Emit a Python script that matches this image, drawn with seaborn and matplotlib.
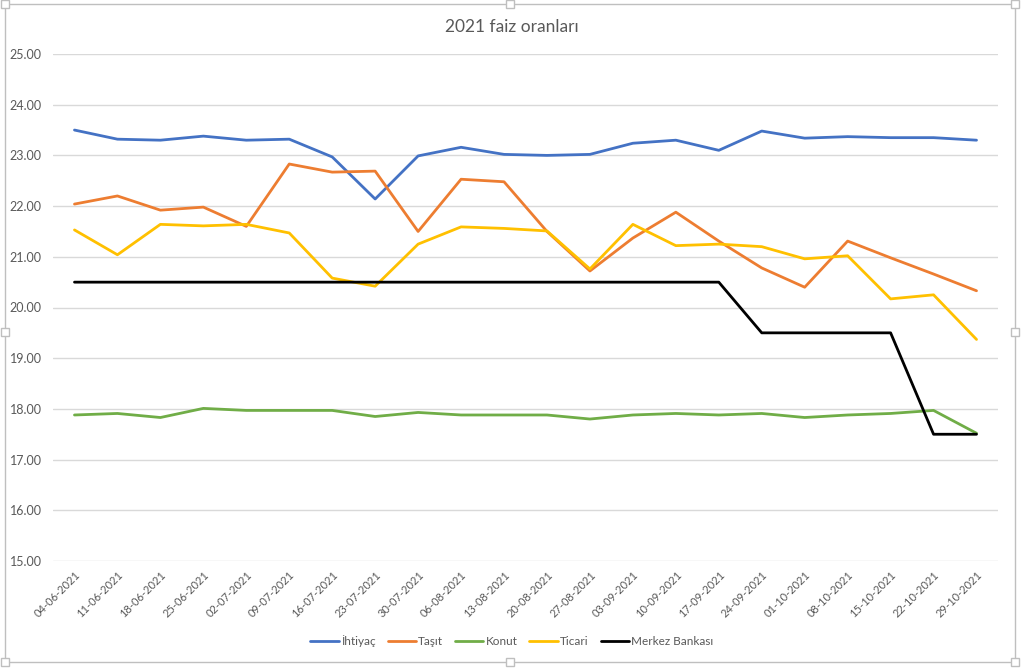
import matplotlib
matplotlib.use("Agg")
import matplotlib.pyplot as plt
import seaborn as sns
import pandas as pd
from matplotlib.patches import Rectangle
from matplotlib.lines import Line2D

dates = ["04-06-2021", "11-06-2021", "18-06-2021", "25-06-2021", "02-07-2021", "09-07-2021",
         "16-07-2021", "23-07-2021", "30-07-2021", "06-08-2021", "13-08-2021", "20-08-2021",
         "27-08-2021", "03-09-2021", "10-09-2021", "17-09-2021", "24-09-2021", "01-10-2021",
         "08-10-2021", "15-10-2021", "22-10-2021", "29-10-2021"]

ihtiyac = [23.50, 23.32, 23.30, 23.38, 23.30, 23.32, 22.97, 22.14, 22.99, 23.16, 23.02, 23.00,
           23.02, 23.24, 23.30, 23.10, 23.48, 23.34, 23.37, 23.35, 23.35, 23.30]
tasit = [22.04, 22.20, 21.92, 21.98, 21.60, 22.83, 22.67, 22.69, 21.50, 22.53, 22.48, 21.50,
         20.72, 21.37, 21.88, 21.31, 20.78, 20.40, 21.31, 20.98, 20.66, 20.33]
konut = [17.88, 17.91, 17.83, 18.01, 17.97, 17.97, 17.97, 17.85, 17.93, 17.88, 17.88, 17.88,
         17.80, 17.88, 17.91, 17.88, 17.91, 17.83, 17.88, 17.91, 17.97, 17.52]
ticari = [21.53, 21.04, 21.64, 21.61, 21.64, 21.47, 20.58, 20.42, 21.25, 21.59, 21.56, 21.51,
          20.76, 21.64, 21.22, 21.25, 21.20, 20.96, 21.02, 20.17, 20.25, 19.37]
merkez = [20.50, 20.50, 20.50, 20.50, 20.50, 20.50, 20.50, 20.50, 20.50, 20.50, 20.50, 20.50,
          20.50, 20.50, 20.50, 20.50, 19.50, 19.50, 19.50, 19.50, 17.50, 17.50]

series_names = ["İhtiyaç", "Taşıt", "Konut", "Ticari", "Merkez Bankası"]
series_vals = [ihtiyac, tasit, konut, ticari, merkez]
colors = ["#4472C4", "#ED7D31", "#70AD47", "#FFC000", "#000000"]

rows = []
for name, vals in zip(series_names, series_vals):
    for i, (d, v) in enumerate(zip(dates, vals)):
        rows.append({"idx": i, "date": d, "series": name, "value": v})
df = pd.DataFrame(rows)

sns.set_style("white")
plt.rcParams["font.family"] = ["Lato", "DejaVu Sans"]

W, H = 1024, 669
fig = plt.figure(figsize=(W / 100, H / 100), dpi=100)
ax = fig.add_axes([53 / W, 1 - 561 / H, (998 - 53) / W, (561 - 54) / H])

sns.lineplot(data=df, x="idx", y="value", hue="series", hue_order=series_names,
             palette=colors, linewidth=2.0, ax=ax, legend=False, sort=False)

ax.set_xlim(-0.5, len(dates) - 0.5)
ax.set_ylim(15, 25)
ax.set_yticks(list(range(15, 26)))
ax.set_yticklabels([f"{v:.2f}" for v in range(15, 26)], color="#595959", fontsize=9)
ax.set_xticks(range(len(dates)))
ax.set_xticklabels(dates, rotation=45, ha="right", rotation_mode="anchor",
                   color="#595959", fontsize=8)
ax.tick_params(axis="x", length=0, pad=6)
ax.tick_params(axis="y", length=0, pad=8)
ax.grid(axis="y", color="#D9D9D9", linewidth=1.0)
ax.set_axisbelow(True)
for s in ax.spines.values():
    s.set_visible(False)
ax.set_xlabel("")
ax.set_ylabel("")

fig.text(0.5, 1 - 27 / H, "2021 faiz oranları", ha="center", va="center",
         fontsize=12.5, color="#595959")

handles = [Line2D([0], [0], color=c, linewidth=2.0) for c in colors]
fig.legend(handles, series_names, loc="center", bbox_to_anchor=(0.5, 1 - 641 / H),
           ncol=5, frameon=False, fontsize=8.5, handlelength=2.4, handletextpad=0.2,
           columnspacing=1.0, labelcolor="#595959")

# chart frame
fig.patches.append(Rectangle((5 / W, 1 - 662 / H), (1015 - 5) / W, (662 - 4) / H,
                             transform=fig.transFigure, fill=False, edgecolor="#BFBFBF",
                             linewidth=1.0))
# selection handles
for hx, hy in [(5, 4), (510, 4), (1015, 4), (5, 332), (1015, 332), (5, 662), (510, 662), (1015, 662)]:
    fig.patches.append(Rectangle(((hx - 4) / W, 1 - (hy + 4) / H), 8 / W, 8 / H,
                                 transform=fig.transFigure, facecolor="white",
                                 edgecolor="#BFBFBF", linewidth=1.0, zorder=5))

fig.savefig("out.png", dpi=100, facecolor="white")
